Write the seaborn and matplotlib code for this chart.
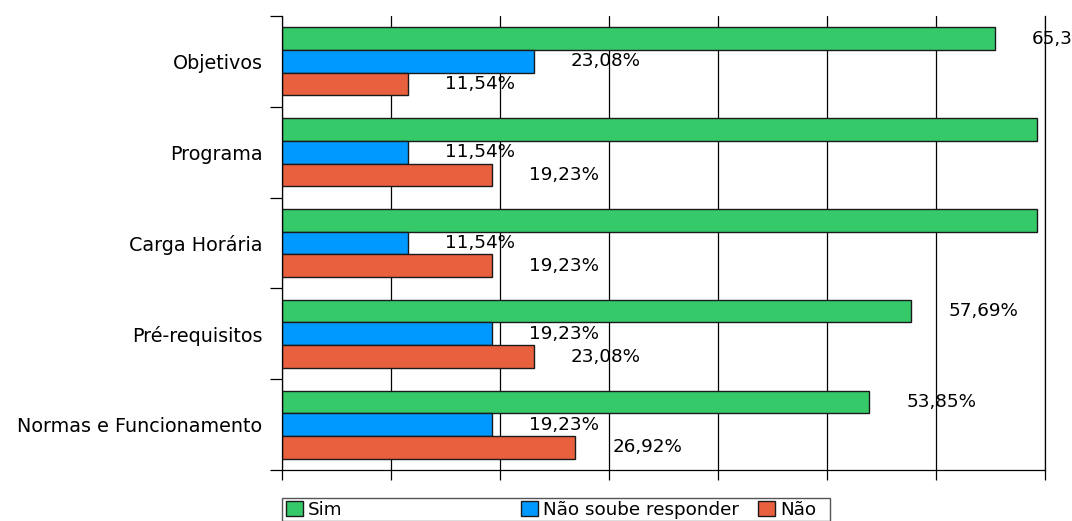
import numpy as np
import pandas as pd
import seaborn as sns
import matplotlib.pyplot as plt
from matplotlib.patches import Patch, Rectangle

categories = ['Objetivos', 'Programa', 'Carga Horária', 'Pré-requisitos', 'Normas e Funcionamento']
series = ['Sim', 'Não soube responder', 'Não']
sim = [65.38, 69.23, 69.23, 57.69, 53.85]
nao_sabe = [23.08, 11.54, 11.54, 19.23, 19.23]
nao = [11.54, 19.23, 19.23, 23.08, 26.92]

COLORS = {
    'Sim': '#36c96a',
    'Não soube responder': '#0099ff',
    'Não': '#e9603f'
}

df = pd.DataFrame({
    'item': categories * 3,
    'resposta': [s for s in series for _ in categories],
    'valor': sim + nao_sabe + nao,
})

sns.set_style('white')
plt.rcParams['font.family'] = ['DejaVu Sans']
plt.rcParams['text.color'] = 'black'
plt.rcParams['ytick.color'] = 'black'
plt.rcParams['xtick.color'] = 'black'

fig = plt.figure(figsize=(10.72, 5.21), dpi=100)
ax = fig.add_axes([282 / 1072, 51 / 521, 763 / 1072, 454 / 521])

sns.barplot(data=df, x='valor', y='item', hue='resposta', order=categories,
            hue_order=series, palette=COLORS, orient='h', width=0.75,
            saturation=1, edgecolor='#1a1a1a', linewidth=1, legend=False, ax=ax)

# value labels to the right of each bar
for cont in ax.containers:
    ax.bar_label(cont, fmt=lambda v: f"{v:.2f}%".replace('.', ','),
                 padding=27, fontsize=13.2, color='black', clip_on=False)

ax.set_xlim(0, 70)
ax.set_ylim(len(categories) - 0.5, -0.5)
ax.set_xlabel('')
ax.set_ylabel('')

# vertical grid lines, ticks without labels at the bottom
ax.set_xticks(np.arange(0, 71, 10))
ax.set_xticklabels([])
ax.xaxis.grid(True, color='black', linewidth=0.9)
ax.set_axisbelow(True)
ax.tick_params(axis='x', direction='out', length=7.5, width=0.9, color='black', bottom=True)

# category labels at centers, tick marks at group boundaries
ax.set_yticks(range(len(categories)))
ax.set_yticklabels(categories, fontsize=13.8, color='black')
ax.tick_params(axis='y', which='major', length=0, pad=14)
ax.set_yticks(np.arange(-0.5, len(categories)), minor=True)
ax.tick_params(axis='y', which='minor', direction='out', length=8.5, width=0.9, color='black', left=True)

ax.spines['top'].set_visible(False)
for side in ['left', 'bottom', 'right']:
    ax.spines[side].set_color('black')
    ax.spines[side].set_linewidth(0.9)

# legend: frame plus three entries at fixed slots
fig.patches.append(Rectangle((282 / 1072, 0), 548 / 1072, 23 / 521, transform=fig.transFigure,
                             facecolor='white', edgecolor='#555555', linewidth=1))
slots = [286, 521, 758]
for name, x0 in zip(series, slots):
    h = Patch(facecolor=COLORS[name], edgecolor='#1a1a1a', linewidth=1)
    leg = fig.legend(handles=[h], labels=[name], loc='center left',
                     bbox_to_anchor=(x0 / 1072, 11 / 521), frameon=False,
                     fontsize=13.2, handlelength=0.9, handleheight=0.9,
                     handletextpad=0.3, borderpad=0, borderaxespad=0)

fig.savefig('out.png', dpi=100)
